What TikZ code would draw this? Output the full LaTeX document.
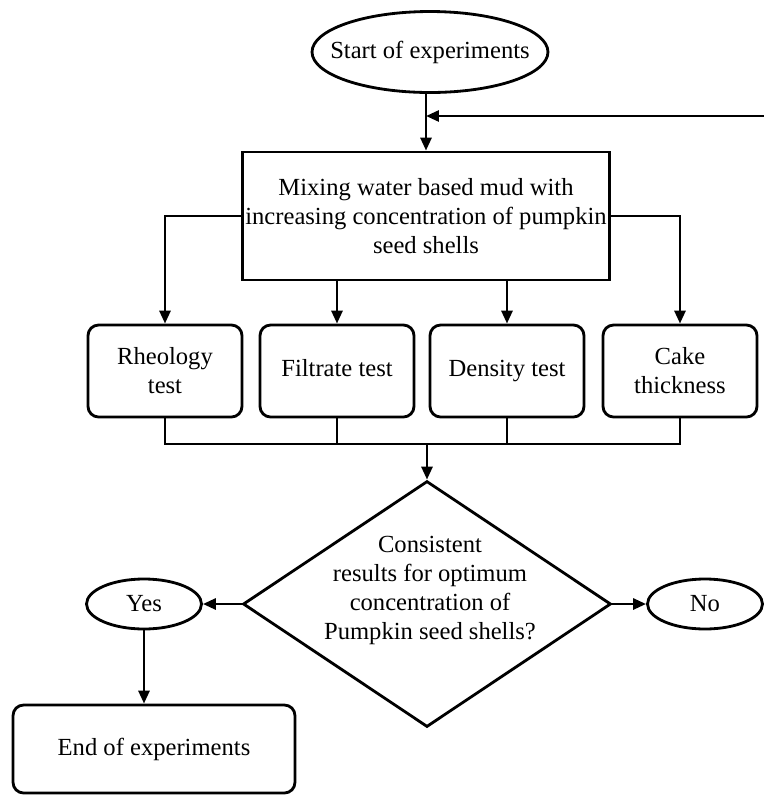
\documentclass[tikz,border=0pt]{standalone}
\usepackage{fontspec}
\setmainfont{Liberation Serif}
\usetikzlibrary{positioning,shapes.geometric,arrows.meta}
\tikzset{
  flowline/.style={line width=1.6pt},
  flowarrow/.style={flowline,-{Triangle[length=2.6mm,width=2.2mm]}},
  termbox/.style={ellipse,draw,line width=1.6pt,inner sep=0pt},
  testbox/.style={draw,line width=1.6pt,rounded corners=6pt,minimum width=3.08cm,
                  minimum height=1.84cm,align=center,inner sep=0pt},
}

\begin{document}
\begin{tikzpicture}[x=0.02cm,y=-0.02cm,font=\fontsize{14}{16.5}\selectfont]
  \useasboundingbox (0,0) rectangle (764,796);
  \node[termbox,inner xsep=-10pt,minimum width=4.72cm,minimum height=1.62cm] (start) at (430,52)
        {Start of experiments};
  \node[draw,line width=1.6pt,minimum width=7.34cm,minimum height=2.56cm,align=center,inner sep=0pt]
        (mix) at (426,216) {Mixing water based mud with\\increasing concentration of pumpkin\\seed shells};
  \foreach \x/\nm/\txt in {165/rheo/{Rheology\\test},337/filt/{Filtrate test\strut},
                           507/dens/{Density test\strut},680/cake/{Cake\\thickness}}
    \node[testbox] (\nm) at (\x,371) {\txt};
  \node[diamond,draw,line width=1.6pt,minimum width=7.36cm,minimum height=4.92cm] (check) at (427,604) {};
  \node[align=center,inner sep=0pt] (checktxt) at (430,590)
        {Consistent\\results for optimum\\concentration of\\Pumpkin seed shells?};
  \node[termbox,minimum width=2.3cm,minimum height=1.0cm] (yes) at (144,604) {Yes};
  \node[termbox,minimum width=2.3cm,minimum height=1.0cm] (no) at (705,604) {No};
  \node[testbox,minimum width=5.64cm,minimum height=1.76cm] (end) at (154,749) {End of experiments};
  \coordinate (back) at (764,116);
  \coordinate (join) at (427,444);
  \draw[flowarrow] (start.south -| mix) -- (mix.north);
  \draw[flowarrow] (back) -- (back -| mix);
  \draw[flowarrow] (mix.west) -| (rheo.north);
  \draw[flowarrow] (mix.east) -| (cake.north);
  \foreach \nm in {filt,dens}
    \draw[flowarrow] (mix.south -| \nm) -- (\nm.north);
  \draw[flowline] (rheo.south) |- (join) -| (cake.south);
  \foreach \nm in {filt,dens}
    \draw[flowline] (\nm.south) -- (\nm.south |- join);
  \draw[flowarrow] (join) -- (check.north);
  \draw[flowarrow] (check.west) -- (yes.east);
  \draw[flowarrow] (check.east) -- (no.west);
  \draw[flowarrow] (yes.south) -- (yes.south |- end.north);
\end{tikzpicture}
\end{document}
